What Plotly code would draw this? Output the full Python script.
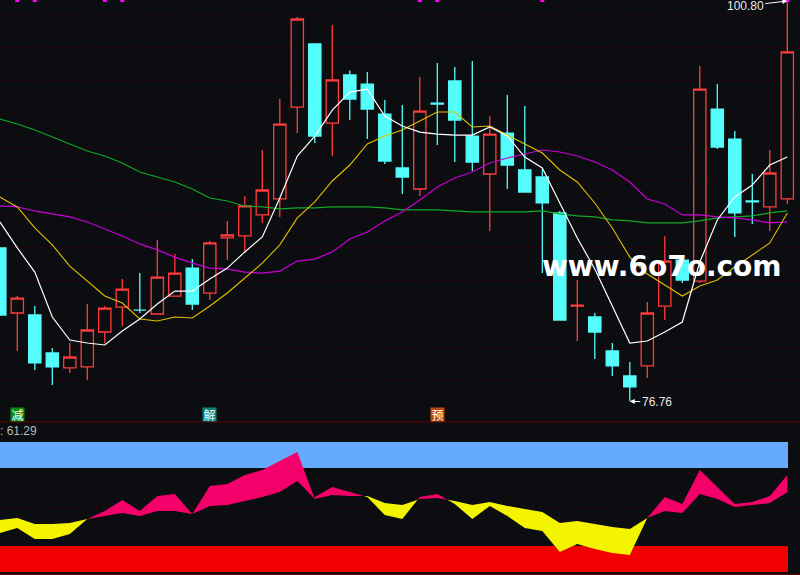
import plotly.graph_objects as go

BG = "#0c0d10"
RED = "#ff3c3c"
CYAN = "#54fcfc"

idx = list(range(-1, 45))

opens = [85.97, 82.06, 81.94, 79.66, 78.76, 78.82, 80.92, 82.42, 82.24, 82.00, 83.08, 84.76, 83.26, 86.57, 86.69, 87.95,
         88.91, 94.43, 98.22, 93.47, 96.36, 95.81, 94.01, 90.77, 89.51, 94.67, 96.00, 92.69, 90.41, 92.87, 90.65, 90.23,
         88.07, 82.48, 81.82, 79.78, 78.28, 78.88, 82.48, 85.24, 83.98, 94.31, 92.51, 88.79, 88.43, 88.91]
highs = [85.97, 83.08, 82.48, 79.96, 80.26, 82.60, 82.48, 84.10, 84.46, 86.45, 85.60, 85.30, 86.39, 87.59, 89.09, 91.85,
         94.91, 99.84, 98.28, 99.36, 96.62, 96.54, 94.85, 94.55, 96.24, 97.08, 96.84, 97.20, 93.89, 95.15, 94.49, 90.71,
         88.19, 84.04, 82.06, 80.26, 79.12, 82.72, 86.69, 85.42, 96.90, 95.81, 92.99, 90.41, 91.85, 100.80]
lows = [81.94, 79.78, 78.64, 77.74, 78.46, 78.04, 80.26, 81.28, 82.06, 82.00, 83.08, 82.24, 82.84, 85.24, 85.67, 87.47,
        87.83, 92.87, 92.27, 91.49, 93.65, 92.51, 91.01, 89.21, 89.09, 92.15, 91.13, 90.59, 86.99, 89.51, 89.33, 84.46,
        81.64, 80.38, 79.30, 78.28, 76.76, 78.16, 81.64, 83.86, 83.86, 91.91, 86.63, 87.41, 86.99, 88.61]
closes = [81.94, 82.96, 79.06, 78.82, 79.42, 81.04, 82.36, 83.50, 82.24, 84.22, 84.46, 82.60, 86.27, 86.75, 88.49, 89.45,
          93.41, 99.72, 92.69, 96.06, 94.91, 94.31, 91.19, 90.23, 94.19, 94.61, 93.65, 91.13, 92.81, 90.95, 89.33, 88.67,
          81.64, 82.54, 80.92, 78.88, 77.62, 82.06, 85.18, 84.04, 95.51, 92.03, 88.07, 88.73, 90.47, 97.74]

ma_white = [87.53, 85.97, 84.52, 81.82, 80.44, 80.26, 80.14, 80.98, 81.70, 82.60, 83.38, 83.38, 84.10, 84.76, 85.73, 86.63,
            88.97, 91.49, 92.69, 94.25, 95.33, 95.51, 93.89, 93.29, 92.93, 92.81, 92.75, 92.75, 93.23, 92.69, 91.43, 90.77,
            88.67, 86.57, 84.70, 82.48, 80.26, 80.38, 80.92, 81.52, 85.12, 87.65, 89.03, 89.75, 90.95, 91.43]
ma_yellow = [89.03, 88.43, 87.17, 86.15, 84.88, 83.98, 83.08, 82.66, 81.70, 81.58, 81.82, 81.76, 82.48, 83.26, 84.16, 85.06,
             86.15, 87.77, 88.73, 89.99, 90.95, 92.21, 92.69, 93.05, 93.59, 94.13, 94.13, 93.23, 93.29, 92.75, 92.21, 91.67,
             90.65, 89.93, 88.67, 87.17, 85.42, 84.40, 83.74, 83.08, 83.68, 84.04, 84.82, 85.54, 86.27, 88.07]
ma_magenta = [88.49, 88.43, 88.19, 88.01, 87.83, 87.53, 87.11, 86.69, 86.21, 85.85, 85.42, 85.06, 84.76, 84.70, 84.52, 84.46,
              84.58, 85.18, 85.30, 85.73, 86.51, 86.93, 87.59, 88.13, 88.85, 89.63, 90.17, 90.53, 91.07, 91.37, 91.61, 91.85,
              91.73, 91.49, 91.13, 90.65, 89.93, 88.91, 88.61, 87.95, 87.95, 87.83, 87.77, 87.65, 87.47, 87.53]
ma_green = [93.71, 93.41, 93.05, 92.63, 92.21, 91.79, 91.49, 91.07, 90.53, 90.23, 89.93, 89.51, 88.97, 88.79, 88.49, 88.43,
            88.31, 88.37, 88.37, 88.43, 88.43, 88.43, 88.37, 88.25, 88.25, 88.25, 88.19, 88.13, 88.13, 88.13, 88.13, 88.19,
            88.01, 87.89, 87.83, 87.65, 87.59, 87.47, 87.47, 87.47, 87.59, 87.77, 87.83, 87.89, 88.07, 88.19]

flag_idx = [0, 1, 5, 6, 23, 24, 30, 44]
flag_val = [100.86] * 8
grid_prices = [78, 80, 82, 84, 86, 88, 90, 92, 94, 96, 98, 100]

osc_fast = [30.0, 33.85, 25.38, 25.38, 29.23, 40.77, 46.92, 55.38, 46.92, 58.46, 60.0, 44.62, 66.15, 67.69, 74.62, 78.46,
            85.38, 92.31, 57.69, 65.38, 61.54, 57.69, 43.85, 40.77, 57.69, 60.0, 52.31, 40.77, 50.77, 43.08, 33.85, 31.54,
            15.38, 21.54, 17.69, 14.62, 13.08, 41.54, 57.69, 52.31, 78.46, 65.38, 52.31, 53.85, 58.46, 74.62]
osc_slow = [40.0, 41.54, 36.92, 36.92, 37.69, 40.77, 43.08, 45.38, 43.08, 46.92, 46.92, 44.62, 50.77, 51.54, 54.62, 57.69,
            61.54, 70.0, 56.15, 59.23, 58.46, 58.46, 53.08, 51.54, 56.15, 56.92, 54.62, 51.54, 53.85, 50.77, 48.46, 46.15,
            37.69, 39.23, 36.92, 34.62, 33.08, 41.54, 46.92, 45.38, 60.0, 56.15, 50.0, 51.54, 53.08, 61.29]


def ribbons(xs, fast, slow):
    """Split the band between two series into up and down polygons."""
    up_x, up_y, dn_x, dn_y = [], [], [], []
    for k in range(len(xs) - 1):
        x0, x1 = xs[k], xs[k + 1]
        f0, f1, s0, s1 = fast[k], fast[k + 1], slow[k], slow[k + 1]
        d0, d1 = f0 - s0, f1 - s1
        if d0 * d1 < 0:
            t = d0 / (d0 - d1)
            xm, ym = x0 + t * (x1 - x0), f0 + t * (f1 - f0)
            parts = [(x0, f0, s0, xm, ym, ym, d0), (xm, ym, ym, x1, f1, s1, d1)]
        else:
            parts = [(x0, f0, s0, x1, f1, s1, d0 + d1)]
        for a, fa, sa, b, fb, sb, sign in parts:
            px, py = (up_x, up_y) if sign >= 0 else (dn_x, dn_y)
            px += [a, b, b, a, a, None]
            py += [fa, fb, sb, sa, fa, None]
    return up_x, up_y, dn_x, dn_y


up_x, up_y, dn_x, dn_y = ribbons(idx, osc_fast, osc_slow)

fig = go.Figure()
fig.add_trace(go.Candlestick(
    x=idx, open=opens, high=highs, low=lows, close=closes,
    increasing=dict(line=dict(color=RED, width=1.3), fillcolor=BG),
    decreasing=dict(line=dict(color=CYAN, width=1.3), fillcolor=CYAN),
    whiskerwidth=0, showlegend=False,
))
for vals, col, w in [(ma_green, "#12a82a", 1.2), (ma_magenta, "#c800d8", 1.2), (ma_yellow, "#e0c000", 1.1), (ma_white, "#ffffff", 1.2)]:
    fig.add_trace(go.Scatter(x=idx, y=vals, mode="lines", line=dict(color=col, width=w), showlegend=False))
fig.add_trace(go.Scatter(x=flag_idx, y=flag_val, mode="markers",
                         marker=dict(symbol="square", size=4, color="#ff00ff"), showlegend=False))
fig.add_trace(go.Scatter(x=up_x, y=up_y, yaxis="y2", mode="lines", line=dict(width=0), fill="toself",
                         fillcolor="#f4006b", showlegend=False))
fig.add_trace(go.Scatter(x=dn_x, y=dn_y, yaxis="y2", mode="lines", line=dict(width=0), fill="toself",
                         fillcolor="#f4f400", showlegend=False))

split = 153 / 575
shapes = [
    dict(type="rect", xref="x", yref="y2", x0=-1, x1=44.04, y0=80, y1=100, fillcolor="#66aafc", line_width=0, layer="below"),
    dict(type="rect", xref="x", yref="y2", x0=-1, x1=44.04, y0=0, y1=20, fillcolor="#f00000", line_width=0, layer="below"),
    dict(type="line", xref="paper", yref="paper", x0=0, x1=1, y0=split, y1=split, line=dict(color="#6a0000", width=1)),
    dict(type="line", xref="paper", yref="paper", x0=0, x1=1, y0=0.001, y1=0.001, line=dict(color="#6a0000", width=1)),
]

BADGE = dict(showarrow=False, borderpad=0, xref="x", yref="y", y=75.97, width=13, height=13, valign="middle", align="center",
             font=dict(family="Noto Sans CJK SC", size=12, color="#ffffff"))
annotations = [
    dict(text="减", x=0, bgcolor="#0a8a0a", **BADGE),
    dict(text="解", x=11, bgcolor="#0a8080", **BADGE),
    dict(text="预", x=24, bgcolor="#b84a10", **BADGE),
    dict(text="100.80", x=44, y=100.80, xref="x", yref="y", ax=-42, ay=5, axref="pixel", ayref="pixel",
         showarrow=True, arrowcolor="#ffffff", arrowwidth=1, arrowhead=2, arrowsize=1, standoff=0,
         font=dict(family="Liberation Sans", size=12, color="#e8e8e8")),
    dict(text="76.76", x=35, y=76.76, xref="x", yref="y", ax=27, ay=1, axref="pixel", ayref="pixel",
         showarrow=True, arrowcolor="#ffffff", arrowwidth=1, arrowhead=2, arrowsize=1, standoff=0,
         font=dict(family="Liberation Sans", size=12, color="#e8e8e8")),
    dict(text=": 61.29", xref="paper", yref="paper", x=-0.002, y=(575 - 431) / 575, xanchor="left", yanchor="middle",
         showarrow=False, font=dict(family="Liberation Sans", size=12, color="#b8b8b8")),
    dict(text="www.6o7o.com", xref="paper", yref="paper", x=662 / 800, y=(575 - 266) / 575, xanchor="center",
         yanchor="middle", showarrow=False, font=dict(family="DejaVu Sans", size=28, color="#ffffff", weight="bold")),
]

fig.update_layout(
    width=800, height=575, margin=dict(l=0, r=0, t=0, b=0),
    paper_bgcolor=BG, plot_bgcolor=BG, showlegend=False,
    boxgap=0, boxmode="overlay",
    shapes=shapes, annotations=annotations, hovermode=False,
    xaxis=dict(range=[-0.9886, 44.7257], visible=False, rangeslider=dict(visible=False), fixedrange=True),
    yaxis=dict(domain=[split, 1], range=[75.515, 100.86], tickvals=grid_prices, showticklabels=False, ticks="",
               showgrid=True, gridcolor="#4a0000", griddash="1px,5px", gridwidth=1, zeroline=False, showline=False),
    yaxis2=dict(domain=[0, split], range=[-2.31, 115.38], anchor="x", tickvals=[50], showticklabels=False, ticks="",
                showgrid=True, gridcolor="#4a0000", griddash="1px,5px", gridwidth=1, zeroline=False, showline=False),
)
fig.write_html("out.html", config={"displayModeBar": False},
               post_script="document.body.style.margin='0';document.body.style.background='%s';" % BG)
